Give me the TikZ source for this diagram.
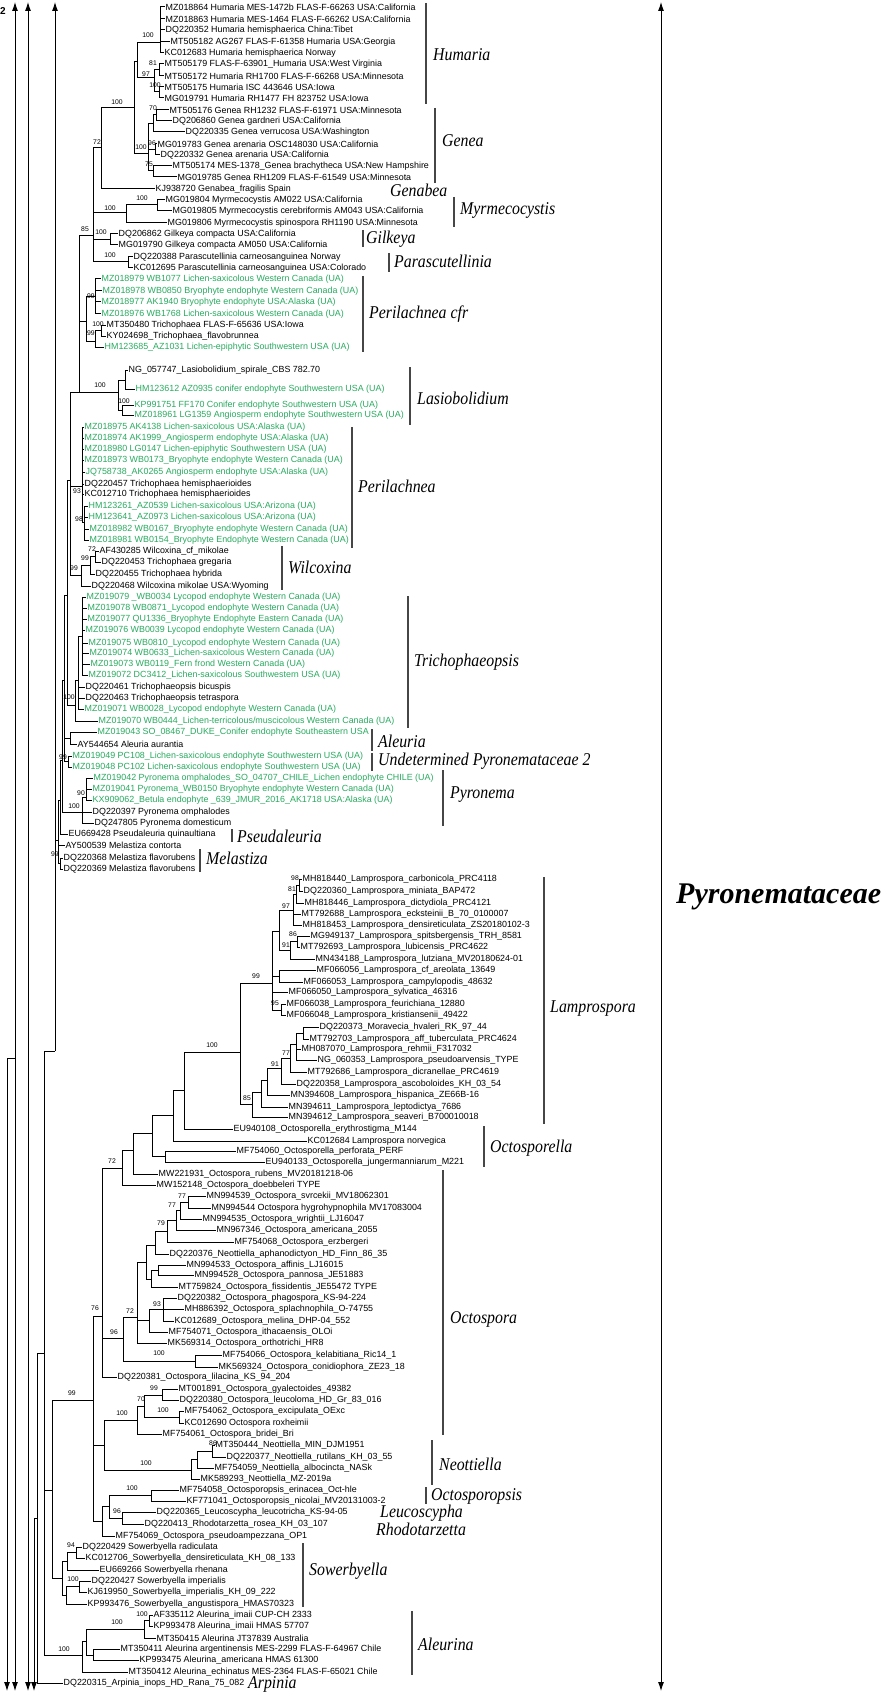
\documentclass[tikz,border=0pt]{standalone}
\usepackage{fontspec}
\usetikzlibrary{arrows.meta}
\newfontfamily\leaffont{Liberation Sans}
\newfontfamily\cladefont[FakeStretch=0.88]{Liberation Serif Italic}
\newfontfamily\famfont{Liberation Serif Bold Italic}
\definecolor{lgreen}{RGB}{40,170,95}
\definecolor{bargray}{RGB}{70,70,70}
\tikzset{
  br/.style={line width=1pt},
  leaf/.style={anchor=west, inner sep=0.5pt, font=\leaffont\fontsize{8.9}{9.5}\selectfont},
  bs/.style={inner sep=0pt, font=\leaffont\fontsize{6.8}{7}\selectfont},
  clade/.style={anchor=west, inner sep=0pt, font=\cladefont\fontsize{18}{20}\selectfont},
  cbar/.style={line width=1.2pt, bargray},
  arr/.style={line width=0.9pt, -{Latex[length=9pt,width=6pt]}},
  arrtwo/.style={line width=0.9pt, {Latex[length=9pt,width=6pt]}-{Latex[length=9pt,width=6pt]}},
}
\newcommand\Lf[4]{\node[leaf] (#1) at (#3,#2) {#4};}
\newcommand\Lg[4]{\node[leaf,text=lgreen] (#1) at (#3,#2) {#4};}
\newcommand\Nd[3]{\coordinate (#1) at (#2,#3);}
\newcommand\Kids[2]{\foreach \kid in {#2} {\draw[br] (#1) |- (\kid);}}
\newcommand\Bs[4]{\node[bs] (#1) at (#2,#3) {#4};}
\begin{document}
\begin{tikzpicture}[x=1pt,y=-1pt]
\useasboundingbox (0,0) rectangle (889,1693);
% ---------------- leaves (upper) ----------------
\Lf{l1}{7}{165}{MZ018864 Humaria MES-1472b FLAS-F-66263 USA:California}
\Lf{l2}{19}{165}{MZ018863 Humaria MES-1464 FLAS-F-66262 USA:California}
\Lf{l3}{30}{165}{DQ220352 Humaria hemisphaerica China:Tibet}
\Lf{l4}{42}{170}{MT505182 AG267 FLAS-F-61358 Humaria USA:Georgia}
\Lf{l5}{53}{164}{KC012683 Humaria hemisphaerica Norway}
\Lf{l6}{64}{164}{MT505179 FLAS-F-63901\_Humaria USA:West Virginia}
\Lf{l7}{76}{164}{MT505172 Humaria RH1700 FLAS-F-66268 USA:Minnesota}
\Lf{l8}{87}{164}{MT505175 Humaria ISC 443646 USA:Iowa}
\Lf{l9}{98}{164}{MG019791 Humaria RH1477 FH 823752 USA:Iowa}
\Lf{l10}{110}{169}{MT505176 Genea RH1232 FLAS-F-61971 USA:Minnesota}
\Lf{l11}{121}{172}{DQ206860 Genea gardneri USA:California}
\Lf{l12}{132}{185}{DQ220335 Genea verrucosa USA:Washington}
\Lf{l13}{144}{157}{MG019783 Genea arenaria OSC148030 USA:California}
\Lf{l14}{155}{160}{DQ220332 Genea arenaria USA:California}
\Lf{l15}{166}{172}{MT505174 MES-1378\_Genea brachytheca USA:New Hampshire}
\Lf{l16}{177}{177}{MG019785 Genea RH1209 FLAS-F-61549 USA:Minnesota}
\Lf{l17}{189}{155}{KJ938720 Genabea\_fragilis Spain}
\Lf{l18}{200}{165}{MG019804 Myrmecocystis AM022 USA:California}
\Lf{l19}{211}{172}{MG019805 Myrmecocystis cerebriformis AM043 USA:California}
\Lf{l20}{223}{167}{MG019806 Myrmecocystis spinospora RH1190 USA:Minnesota}
\Lf{l21}{234}{118}{DQ206862 Gilkeya compacta USA:California}
\Lf{l22}{245}{118}{MG019790 Gilkeya compacta AM050 USA:California}
\Lf{l23}{257}{133}{DQ220388 Parascutellinia carneosanguinea Norway}
\Lf{l24}{268}{133}{KC012695 Parascutellinia carneosanguinea USA:Colorado}
\Lg{l25}{279}{101}{MZ018979 WB1077 Lichen-saxicolous Western Canada (UA)}
\Lg{l26}{291}{102}{MZ018978 WB0850 Bryophyte endophyte Western Canada (UA)}
\Lg{l27}{302}{101}{MZ018977 AK1940 Bryophyte endophyte USA:Alaska (UA)}
\Lg{l28}{314}{101}{MZ018976 WB1768 Lichen-saxicolous Western Canada (UA)}
\Lf{l29}{325}{106}{MT350480 Trichophaea FLAS-F-65636 USA:Iowa}
\Lf{l30}{336}{106}{KY024698\_Trichophaea\_flavobrunnea}
\Lg{l31}{347}{104}{HM123685\_AZ1031 Lichen-epiphytic Southwestern USA (UA)}
\Lf{l32}{370}{128}{NG\_057747\_Lasiobolidium\_spirale\_CBS 782.70}
\Lg{l33}{389}{135}{HM123612 AZ0935 conifer endophyte Southwestern USA (UA)}
\Lg{l34}{405}{134}{KP991751 FF170 Conifer endophyte Southwestern USA (UA)}
\Lg{l35}{415}{134}{MZ018961 LG1359 Angiosperm endophyte Southwestern USA (UA)}
\Lg{l36}{427}{84}{MZ018975 AK4138 Lichen-saxicolous USA:Alaska (UA)}
\Lg{l37}{438}{84}{MZ018974 AK1999\_Angiosperm endophyte USA:Alaska (UA)}
\Lg{l38}{449}{84}{MZ018980 LG0147 Lichen-epiphytic Southwestern USA (UA)}
\Lg{l39}{460}{84}{MZ018973 WB0173\_Bryophyte endophyte Western Canada (UA)}
\Lg{l40}{472}{85}{JQ758738\_AK0265 Angiosperm endophyte USA:Alaska (UA)}
\Lf{l41}{484}{84}{DQ220457 Trichophaea hemisphaerioides}
\Lf{l42}{494}{84}{KC012710 Trichophaea hemisphaerioides}
\Lg{l43}{506}{88}{HM123261\_AZ0539 Lichen-saxicolous USA:Arizona (UA)}
\Lg{l44}{517}{88}{HM123641\_AZ0973 Lichen-saxicolous USA:Arizona (UA)}
\Lg{l45}{529}{89}{MZ018982 WB0167\_Bryophyte endophyte Western Canada (UA)}
\Lg{l46}{540}{89}{MZ018981 WB0154\_Bryophyte Endophyte Western Canada (UA)}
\Lf{l47}{551}{99}{AF430285 Wilcoxina\_cf\_mikolae}
\Lf{l48}{562}{101}{DQ220453 Trichophaea gregaria}
\Lf{l49}{574}{95}{DQ220455 Trichophaea hybrida}
\Lf{l50}{586}{91}{DQ220468 Wilcoxina mikolae USA:Wyoming}
\Lg{l51}{597}{86}{MZ019079 \_WB0034 Lycopod endophyte Western Canada (UA)}
\Lg{l52}{608}{87}{MZ019078 WB0871\_Lycopod endophyte Western Canada (UA)}
\Lg{l53}{619}{87}{MZ019077 QU1336\_Bryophyte Endophyte Eastern Canada (UA)}
\Lg{l54}{630}{85}{MZ019076 WB0039 Lycopod endophyte Western Canada (UA)}
\Lg{l55}{643}{88}{MZ019075 WB0810\_Lycopod endophyte Western Canada (UA)}
\Lg{l56}{653}{89}{MZ019074 WB0633\_Lichen-saxicolous Western Canada (UA)}
\Lg{l57}{664}{90}{MZ019073 WB0119\_Fern frond Western Canada (UA)}
\Lg{l58}{675}{88}{MZ019072 DC3412\_Lichen-saxicolous Southwestern USA (UA)}
\Lf{l59}{687}{85}{DQ220461 Trichophaeopsis bicuspis}
\Lf{l60}{698}{85}{DQ220463 Trichophaeopsis tetraspora}
\Lg{l61}{709}{84}{MZ019071 WB0028\_Lycopod endophyte Western Canada (UA)}
\Lg{l62}{721}{98}{MZ019070 WB0444\_Lichen-terricolous/muscicolous Western Canada (UA)}
\Lg{l63}{732}{97}{MZ019043 SO\_08467\_DUKE\_Conifer endophyte Southeastern USA}
\Lf{l64}{744}{77}{AY544654 Aleuria aurantia}
\Lg{l65}{756}{72}{MZ019049 PC108\_Lichen-saxicolous endophyte Southwestern USA (UA)}
\Lg{l66}{767}{72}{MZ019048 PC102 Lichen-saxicolous endophyte Southwestern USA (UA)}
\Lg{l67}{778}{93}{MZ019042 Pyronema omphalodes\_SO\_04707\_CHILE\_Lichen endophyte CHILE (UA)}
\Lg{l68}{789}{92}{MZ019041 Pyronema\_WB0150 Bryophyte endophyte Western Canada (UA)}
\Lg{l69}{800}{92}{KX909062\_Betula endophyte \_639\_JMUR\_2016\_AK1718 USA:Alaska (UA)}
\Lf{l70}{812}{92}{DQ220397 Pyronema omphalodes}
\Lf{l71}{823}{94}{DQ247805 Pyronema domesticum}
\Lf{l72}{834}{68}{EU669428 Pseudaleuria quinaultiana}
\Lf{l73}{845}{65}{AY500539 Melastiza contorta}
\Lf{l74}{858}{63}{DQ220368 Melastiza flavorubens}
\Lf{l75}{869}{63}{DQ220369 Melastiza flavorubens}
% ---------------- leaves (lower) ----------------
\Lf{l76}{879}{302}{MH818440\_Lamprospora\_carbonicola\_PRC4118}
\Lf{l77}{891}{303}{DQ220360\_Lamprospora\_miniata\_BAP472}
\Lf{l78}{903}{304}{MH818446\_Lamprospora\_dictydiola\_PRC4121}
\Lf{l79}{914}{301}{MT792688\_Lamprospora\_ecksteinii\_B\_70\_0100007}
\Lf{l80}{925}{302}{MH818453\_Lamprospora\_densireticulata\_ZS20180102-3}
\Lf{l81}{936}{310}{MG949137\_Lamprospora\_spitsbergensis\_TRH\_8581}
\Lf{l82}{947}{300}{MT792693\_Lamprospora\_lubicensis\_PRC4622}
\Lf{l83}{959}{315}{MN434188\_Lamprospora\_lutziana\_MV20180624-01}
\Lf{l84}{970}{316}{MF066056\_Lamprospora\_cf\_areolata\_13649}
\Lf{l85}{982}{303}{MF066053\_Lamprospora\_campylopodis\_48632}
\Lf{l86}{992}{288}{MF066050\_Lamprospora\_sylvatica\_46316}
\Lf{l87}{1004}{286}{MF066038\_Lamprospora\_feurichiana\_12880}
\Lf{l88}{1015}{286}{MF066048\_Lamprospora\_kristiansenii\_49422}
\Lf{l89}{1027}{319}{DQ220373\_Moravecia\_hvaleri\_RK\_97\_44}
\Lf{l90}{1039}{309}{MT792703\_Lamprospora\_aff\_tuberculata\_PRC4624}
\Lf{l91}{1049}{301}{MH087070\_Lamprospora\_rehmii\_F317032}
\Lf{l92}{1060}{317}{NG\_060353\_Lamprospora\_pseudoarvensis\_TYPE}
\Lf{l93}{1072}{307}{MT792686\_Lamprospora\_dicranellae\_PRC4619}
\Lf{l94}{1084}{296}{DQ220358\_Lamprospora\_ascoboloides\_KH\_03\_54}
\Lf{l95}{1095}{290}{MN394608\_Lamprospora\_hispanica\_ZE66B-16}
\Lf{l96}{1107}{288}{MN394611\_Lamprospora\_leptodictya\_7686}
\Lf{l97}{1117}{288}{MN394612\_Lamprospora\_seaveri\_B700010018}
\Lf{l98}{1129}{233}{EU940108\_Octosporella\_erythrostigma\_M144}
\Lf{l99}{1141}{307}{KC012684 Lamprospora norvegica}
\Lf{l100}{1151}{236}{MF754060\_Octosporella\_perforata\_PERF}
\Lf{l101}{1162}{265}{EU940133\_Octosporella\_jungermanniarum\_M221}
\Lf{l102}{1174}{158}{MW221931\_Octospora\_rubens\_MV20181218-06}
\Lf{l103}{1185}{156}{MW152148\_Octospora\_doebbeleri TYPE}
\Lf{l104}{1196}{206}{MN994539\_Octospora\_svrcekii\_MV18062301}
\Lf{l105}{1208}{211}{MN994544 Octospora hygrohypnophila MV17083004}
\Lf{l106}{1219}{202}{MN994535\_Octospora\_wrightii\_LJ16047}
\Lf{l107}{1230}{216}{MN967346\_Octospora\_americana\_2055}
\Lf{l108}{1242}{234}{MF754068\_Octospora\_erzbergeri}
\Lf{l109}{1254}{169}{DQ220376\_Neottiella\_aphanodictyon\_HD\_Finn\_86\_35}
\Lf{l110}{1265}{186}{MN994533\_Octospora\_affinis\_LJ16015}
\Lf{l111}{1275}{194}{MN994528\_Octospora\_pannosa\_JE51883}
\Lf{l112}{1287}{178}{MT759824\_Octospora\_fissidentis\_JE55472 TYPE}
\Lf{l113}{1298}{177}{DQ220382\_Octospora\_phagospora\_KS-94-224}
\Lf{l114}{1309}{184}{MH886392\_Octospora\_splachnophila\_O-74755}
\Lf{l115}{1321}{174}{KC012689\_Octospora\_melina\_DHP-04\_552}
\Lf{l116}{1332}{168}{MF754071\_Octospora\_ithacaensis\_OLOi}
\Lf{l117}{1343}{167}{MK569314\_Octospora\_orthotrichi\_HR8}
\Lf{l118}{1355}{222}{MF754066\_Octospora\_kelabitiana\_Ric14\_1}
\Lf{l119}{1367}{218}{MK569324\_Octospora\_conidiophora\_ZE23\_18}
\Lf{l120}{1377}{117}{DQ220381\_Octospora\_lilacina\_KS\_94\_204}
\Lf{l121}{1389}{178}{MT001891\_Octospora\_gyalectoides\_49382}
\Lf{l122}{1400}{179}{DQ220380\_Octospora\_leucoloma\_HD\_Gr\_83\_016}
\Lf{l123}{1411}{184}{MF754062\_Octospora\_excipulata\_OExc}
\Lf{l124}{1423}{184}{KC012690 Octospora roxheimii}
\Lf{l125}{1434}{162}{MF754061\_Octospora\_bridei\_Bri}
\Lf{l126}{1445}{215}{MT350444\_Neottiella\_MIN\_DJM1951}
\Lf{l127}{1457}{226}{DQ220377\_Neottiella\_rutilans\_KH\_03\_55}
\Lf{l128}{1468}{214}{MF754059\_Neottiella\_albocincta\_NASk}
\Lf{l129}{1479}{200}{MK589293\_Neottiella\_MZ-2019a}
\Lf{l130}{1490}{179}{MF754058\_Octosporopsis\_erinacea\_Oct-hle}
\Lf{l131}{1501}{186}{KF771041\_Octosporopsis\_nicolai\_MV20131003-2}
\Lf{l132}{1512}{156}{DQ220365\_Leucoscypha\_leucotricha\_KS-94-05}
\Lf{l133}{1524}{144}{DQ220413\_Rhodotarzetta\_rosea\_KH\_03\_107}
\Lf{l134}{1536}{115}{MF754069\_Octospora\_pseudoampezzana\_OP1}
\Lf{l135}{1547}{82}{DQ220429 Sowerbyella radiculata}
\Lf{l136}{1558}{85}{KC012706\_Sowerbyella\_densireticulata\_KH\_08\_133}
\Lf{l137}{1570}{99}{EU669266 Sowerbyella rhenana}
\Lf{l138}{1581}{91}{DQ220427 Sowerbyella imperialis}
\Lf{l139}{1592}{87}{KJ619950\_Sowerbyella\_imperialis\_KH\_09\_222}
\Lf{l140}{1604}{87}{KP993476\_Sowerbyella\_angustispora\_HMAS70323}
\Lf{l141}{1615}{153}{AF335112 Aleurina\_imaii CUP-CH 2333}
\Lf{l142}{1626}{153}{KP993478 Aleurina\_imaii HMAS 57707}
\Lf{l143}{1638}{156}{MT350415 Aleurina JT37839 Australia}
\Lf{l144}{1649}{120}{MT350411 Aleurina argentinensis MES-2299 FLAS-F-64967 Chile}
\Lf{l145}{1660}{139}{KP993475 Aleurina\_americana HMAS 61300}
\Lf{l146}{1672}{128}{MT350412 Aleurina\_echinatus MES-2364 FLAS-F-65021 Chile}
\Lf{l147}{1683}{63}{DQ220315\_Arpinia\_inops\_HD\_Rana\_75\_082}
% ---------------- upper tree ----------------
\Nd{huma}{160}{43} \Kids{huma}{l1,l2,l3,l4,l5}
\Nd{humc}{159}{70} \Kids{humc}{l6,l7}
\Nd{humd}{159}{92} \Kids{humd}{l8,l9}
\Nd{humb}{154}{78} \Kids{humb}{humc,humd}
\Nd{humr}{137}{62} \Kids{humr}{huma,humb}
\Nd{gena}{156}{115} \Kids{gena}{l10,l11}
\Nd{genb}{153}{124} \Kids{genb}{gena,l12}
\Nd{genc}{155}{150} \Kids{genc}{l13,l14}
\Nd{gend}{153}{171} \Kids{gend}{l15,l16}
\Nd{genr}{148}{154} \Kids{genr}{genb,genc,gend}
\Nd{nX}{134}{108} \Kids{nX}{humr,genr}
\Nd{n97}{101}{148} \Kids{n97}{nX,l17}
\Nd{myra}{157}{205} \Kids{myra}{l18,l19}
\Nd{myrr}{126}{213} \Kids{myrr}{myra,l20}
\Nd{gil}{110}{240} \Kids{gil}{l21,l22}
\Nd{par}{128}{262} \Kids{par}{l23,l24}
\Nd{n89}{93}{236} \Kids{n89}{n97,myrr,gil,par}
\Nd{pca}{95}{297} \Kids{pca}{l25,l26,l27,l28}
\Nd{pcb}{101}{330} \Kids{pcb}{l29,l30}
\Nd{pcc}{95}{341} \Kids{pcc}{pcb,l31}
\Nd{pcr}{86}{321} \Kids{pcr}{pca,pcc}
\Nd{lasa}{125}{380} \Kids{lasa}{l32,l33}
\Nd{lasb}{122}{410} \Kids{lasb}{l34,l35}
\Nd{lasr}{118}{392} \Kids{lasr}{lasa,lasb}
\Nd{n77}{79}{392} \Kids{n77}{n89,pcr,lasr}
\Nd{perb}{84}{522} \Kids{perb}{l43,l44,l45,l46}
\Nd{perr}{82}{486} \Kids{perr}{l36,l37,l38,l39,l40,l41,l42,perb}
\Nd{wila}{95}{556} \Kids{wila}{l47,l48}
\Nd{wilb}{90}{565} \Kids{wilb}{wila,l49}
\Nd{wilr}{81}{575} \Kids{wilr}{wilb,l50}
\Nd{nA}{70}{480} \Kids{nA}{n77,perr,wilr}
\Nd{tria}{82}{636} \Kids{tria}{l51,l52,l53,l54,l55,l56,l57,l58}
\Nd{trib}{78}{680} \Kids{trib}{tria,l59,l60,l61}
\Nd{trir}{75}{705} \Kids{trir}{trib,l62}
\Nd{nB}{67}{595} \Kids{nB}{nA,trir}
\Nd{aler}{70}{738} \Kids{aler}{l63,l64}
\Nd{undr}{68}{761} \Kids{undr}{l65,l66}
\Nd{nC}{64}{680} \Kids{nC}{nB,aler,undr}
\Nd{pyra}{86}{797} \Kids{pyra}{l67,l68,l69}
\Nd{pyrr}{82}{812} \Kids{pyrr}{pyra,l70,l71}
\Nd{nD}{62}{760} \Kids{nD}{nC,pyrr}
\Nd{nE}{60}{800} \Kids{nE}{nD,l72}
\Nd{mela}{60}{863} \Kids{mela}{l74,l75}
\Nd{nF}{58}{840} \Kids{nF}{nE,l73,mela}
% ---------------- lower tree ----------------
\Nd{lama}{299}{885} \Kids{lama}{l76,l77}
\Nd{lamei}{296}{894} \Kids{lamei}{lama,l78}
\Nd{lamnine}{293}{910} \Kids{lamnine}{lamei,l79,l80}
\Nd{lamsix}{297}{941} \Kids{lamsix}{l81,l82}
\Nd{lamone}{290}{950} \Kids{lamone}{lamsix,l83}
\Nd{lampu}{279}{931} \Kids{lampu}{lamnine,lamone}
\Nd{mfa}{279}{976} \Kids{mfa}{l84,l85}
\Nd{mff}{281}{1010} \Kids{mff}{l87,l88}
\Nd{Lnn}{272}{983} \Kids{Lnn}{lampu,mfa,l86,mff}
\Nd{mora}{303}{1033} \Kids{mora}{l89,l90}
\Nd{morb}{296}{1044} \Kids{morb}{mora,l91,l92}
\Nd{morc}{290}{1058} \Kids{morc}{morb,l93}
\Nd{mord}{281}{1068} \Kids{mord}{morc,l94}
\Nd{more}{267}{1080} \Kids{more}{mord,l95}
\Nd{morf}{261}{1092} \Kids{morf}{more,l96}
\Nd{morg}{252}{1104} \Kids{morg}{morf,l97}
\Nd{Lhun}{240}{1052} \Kids{Lhun}{Lnn,morg}
\Nd{Nfive}{184}{1090} \Kids{Nfive}{Lhun,l98}
\Nd{Nfour}{173}{1115} \Kids{Nfour}{Nfive,l99}
\Nd{octa}{165}{1156} \Kids{octa}{l100,l101}
\Nd{Nfourb}{152}{1133} \Kids{Nfourb}{Nfour,octa}
\Nd{Nthree}{133}{1150} \Kids{Nthree}{Nfourb,l102}
\Nd{Nthreeb}{122}{1168} \Kids{Nthreeb}{Nthree,l103}
\Nd{oa}{188}{1202} \Kids{oa}{l104,l105}
\Nd{ob}{180}{1210} \Kids{ob}{oa,l106}
\Nd{oc}{176}{1220} \Kids{oc}{ob,l107}
\Nd{od}{167}{1231} \Kids{od}{oc,l108}
\Nd{oe}{155}{1245} \Kids{oe}{od,l109}
\Nd{og}{158}{1270} \Kids{og}{l110,l111}
\Nd{oh}{151}{1279} \Kids{oh}{og,l112}
\Nd{of}{146}{1262} \Kids{of}{oe,oh}
\Nd{oi}{163}{1309} \Kids{oi}{l113,l114,l115}
\Nd{oj}{149}{1320} \Kids{oj}{oi,l116}
\Nd{ok}{137}{1317} \Kids{ok}{of,oj,l117}
\Nd{ol}{195}{1361} \Kids{ol}{l118,l119}
\Nd{om}{123}{1338} \Kids{om}{ok,ol}
\Nd{Nthr}{102}{1316} \Kids{Nthr}{Nthreeb,om,l120}
\Nd{on}{162}{1395} \Kids{on}{l121,l122}
\Nd{oo}{179}{1417} \Kids{oo}{l123,l124}
\Nd{op}{144}{1406} \Kids{op}{on,oo}
\Nd{oq}{137}{1420} \Kids{oq}{op,l125}
\Nd{os}{212}{1451} \Kids{os}{l126,l127}
\Nd{ot}{197}{1459} \Kids{ot}{os,l128}
\Nd{ou}{191}{1470} \Kids{ou}{ot,l129}
\Nd{orr}{104}{1445} \Kids{orr}{oq,ou}
\Nd{ov}{151}{1495} \Kids{ov}{l130,l131}
\Nd{ow}{122}{1518} \Kids{ow}{l132,l133}
\Nd{ox}{109}{1506} \Kids{ox}{ov,ow}
\Nd{oy}{102}{1521} \Kids{oy}{ox,l134}
\Nd{Ntwo}{93}{1400} \Kids{Ntwo}{Nthr,orr,oy}
\Nd{sowa}{76}{1552} \Kids{sowa}{l135,l136}
\Nd{sowb}{67}{1561} \Kids{sowb}{sowa,l137}
\Nd{sowc}{79}{1586} \Kids{sowc}{l138,l139}
\Nd{sowd}{66}{1595} \Kids{sowd}{sowc,l140}
\Nd{sowr}{62}{1578} \Kids{sowr}{sowb,sowd}
\Nd{None}{52}{1490} \Kids{None}{Ntwo,sowr}
\Nd{alea}{149}{1620} \Kids{alea}{l141,l142}
\Nd{aleb}{144}{1629} \Kids{aleb}{alea,l143}
\Nd{alec}{93}{1655} \Kids{alec}{l144,l145}
\Nd{aled}{86}{1641} \Kids{aled}{aleb,alec}
\Nd{aleR}{82}{1655} \Kids{aleR}{aled,l146}
% ---------------- backbone / arrows ----------------
\Nd{Htop}{55}{2}
\Nd{Hbot}{55}{1051}
\Nd{Hn}{55}{840}
\draw[arr] (Hbot) -- (Htop);
\draw[br] (Hn) -- (nF);
\Nd{F}{44}{1353} \Kids{F}{Hbot,None,aleR}
\Nd{E}{37}{1518} \Kids{E}{F,l147}
\Nd{Dn}{34}{1518} \Nd{Dbot}{34}{1691}
\draw[br] (Dn) -- (E);
\draw[arr] (Dn) -- (Dbot);
\Nd{Btop}{15}{2} \Nd{Bbot}{15}{1691}
\draw[arrtwo] (Btop) -- (Bbot);
\Nd{Ctop}{28}{2} \Nd{Cbot}{28}{1691}
\draw[arrtwo] (Ctop) -- (Cbot);
\Nd{Aj}{15}{1058} \Nd{Atop}{7}{1058} \Nd{Abot}{7}{1691}
\draw[br] (Aj) -- (Atop);
\draw[arr] (Atop) -- (Abot);
\node[anchor=west, inner sep=0pt, font=\leaffont\bfseries\fontsize{10}{11}\selectfont] (two) at (0,11) {2};
% ---------------- bootstrap values ----------------
\Bs{b1}{148}{35}{100} \Bs{b2}{153}{63}{81} \Bs{b3}{146}{74}{97} \Bs{b4}{155}{85}{100}
\Bs{b5}{117}{102}{100} \Bs{b6}{153}{108}{70} \Bs{b7}{97}{142}{72} \Bs{b8}{152}{143}{96}
\Bs{b9}{141}{147}{100} \Bs{b10}{149}{164}{75} \Bs{b11}{142}{198}{100} \Bs{b12}{110}{208}{100}
\Bs{b13}{85}{229}{85} \Bs{b14}{101}{232}{100} \Bs{b15}{110}{255}{100} \Bs{b16}{91}{296}{99}
\Bs{b17}{98}{324}{100} \Bs{b18}{91}{333}{99} \Bs{b19}{100}{385}{100} \Bs{b20}{124}{401}{100}
\Bs{b21}{77}{491}{93} \Bs{b22}{79}{519}{98} \Bs{b23}{92}{549}{72} \Bs{b24}{85}{558}{99}
\Bs{b25}{74}{568}{99} \Bs{b26}{69}{697}{100} \Bs{b27}{63}{757}{99} \Bs{b28}{81}{793}{90}
\Bs{b29}{74}{806}{100} \Bs{b30}{55}{854}{99}
\Bs{b31}{295}{878}{98} \Bs{b32}{292}{889}{81} \Bs{b33}{286}{906}{97} \Bs{b34}{293}{934}{86}
\Bs{b35}{286}{945}{91} \Bs{b36}{256}{976}{99} \Bs{b37}{275}{1003}{95} \Bs{b38}{212}{1045}{100}
\Bs{b39}{286}{1053}{77} \Bs{b40}{275}{1064}{91} \Bs{b41}{247}{1098}{85}
\Bs{b42}{112}{1161}{72} \Bs{b43}{182}{1196}{77} \Bs{b44}{172}{1205}{77} \Bs{b45}{161}{1223}{79}
\Bs{b46}{157}{1304}{93} \Bs{b47}{95}{1308}{76} \Bs{b48}{130}{1311}{72} \Bs{b49}{114}{1332}{96}
\Bs{b50}{159}{1353}{100} \Bs{b51}{154}{1388}{99} \Bs{b52}{141}{1399}{70} \Bs{b53}{72}{1393}{99}
\Bs{b54}{122}{1413}{100} \Bs{b55}{163}{1410}{100} \Bs{b56}{213}{1443}{86} \Bs{b57}{146}{1463}{100}
\Bs{b58}{132}{1488}{100} \Bs{b59}{117}{1511}{96} \Bs{b60}{71}{1545}{94} \Bs{b61}{73}{1579}{100}
\Bs{b62}{142}{1614}{100} \Bs{b63}{117}{1622}{100} \Bs{b64}{64}{1649}{100}
% ---------------- clade bars and names ----------------
\draw[cbar] (426,3) -- (426,104);     \node[clade] (cHum) at (433,55) {Humaria};
\draw[cbar] (435,108) -- (435,183);   \node[clade] (cGen) at (442,141) {Genea};
\node[clade] (cGab) at (390,190) {Genabea};
\draw[cbar] (454,197) -- (454,227);   \node[clade] (cMyr) at (460,210) {Myrmecocystis};
\draw[cbar] (363,230) -- (363,247);   \node[clade] (cGil) at (366,239) {Gilkeya};
\draw[cbar] (389,253) -- (389,272);   \node[clade] (cPar) at (394,261) {Parascutellinia};
\draw[cbar] (363,276) -- (363,352);   \node[clade] (cPcf) at (369,314) {Perilachnea cfr};
\draw[cbar] (410,367) -- (410,425);   \node[clade] (cLas) at (417,398) {Lasiobolidium};
\draw[cbar] (352,427) -- (352,548);   \node[clade] (cPer) at (358,486) {Perilachnea};
\draw[cbar] (282,546) -- (282,590);   \node[clade] (cWil) at (288,567) {Wilcoxina};
\draw[cbar] (408,596) -- (408,728);   \node[clade] (cTri) at (414,662) {Trichophaeopsis};
\draw[cbar] (372,729) -- (372,751);   \node[clade] (cAle) at (378,741) {Aleuria};
\draw[cbar] (372,753) -- (372,771);   \node[clade] (cUnd) at (378,761) {Undetermined Pyronemataceae 2};
\draw[cbar] (443,770) -- (443,826);   \node[clade] (cPyr) at (450,795) {Pyronema};
\draw[cbar] (232,829) -- (232,842);   \node[clade] (cPse) at (237,836) {Pseudaleuria};
\draw[cbar] (200,849) -- (200,872);   \node[clade] (cMel) at (206,858) {Melastiza};
\draw[cbar] (544,877) -- (544,1124);  \node[clade] (cLam) at (550,1009) {Lamprospora};
\draw[cbar] (484,1126) -- (484,1167); \node[clade] (cOcl) at (490,1148) {Octosporella};
\draw[cbar] (443,1170) -- (443,1435); \node[clade] (cOcs) at (450,1319) {Octospora};
\draw[cbar] (432,1440) -- (432,1485); \node[clade] (cNeo) at (439,1464) {Neottiella};
\draw[cbar] (426,1487) -- (426,1504); \node[clade] (cOcp) at (431,1496) {Octosporopsis};
\node[clade] (cLeu) at (380,1513) {Leucoscypha};
\node[clade] (cRho) at (376,1529) {Rhodotarzetta};
\draw[cbar] (303,1543) -- (303,1607); \node[clade] (cSow) at (309,1571) {Sowerbyella};
\draw[cbar] (412,1611) -- (412,1675); \node[clade] (cAlr) at (418,1644) {Aleurina};
\node[clade] (cArp) at (248,1684) {Arpinia};
% ---------------- family ----------------
\Nd{Ptop}{661}{2} \Nd{Pbot}{661}{1691}
\draw[arrtwo] (Ptop) -- (Pbot);
\node[anchor=west, inner sep=0pt, font=\famfont\fontsize{30}{32}\selectfont] (fam) at (676,897) {Pyronemataceae};
\end{tikzpicture}
\end{document}
